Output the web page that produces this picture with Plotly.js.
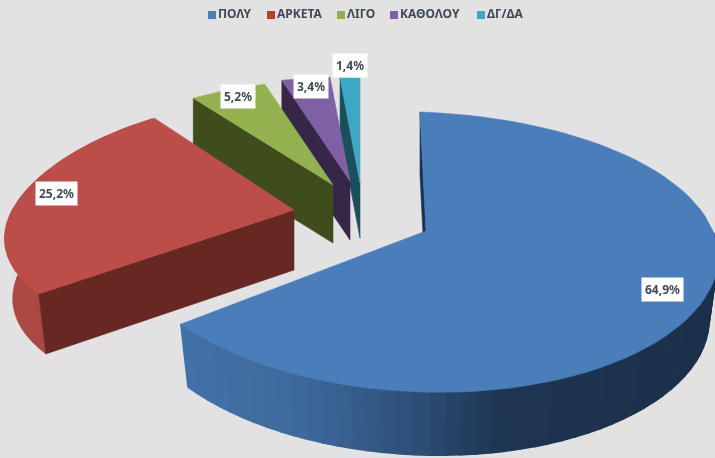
<!DOCTYPE html>
<html><head><meta charset="utf-8">
<script src="https://cdn.plot.ly/plotly-3.0.1.min.js"></script>
<style>html,body{margin:0;padding:0;background:#e2e2e2;overflow:hidden}#c{width:715px;height:458px;filter:blur(0.5px)}</style>
</head><body><div id="c"></div>
<script>
// data
const categories = ["ΠΟΛΥ","ΑΡΚΕΤΑ","ΛΙΓΟ","ΚΑΘΟΛΟΥ","ΔΓ/ΔΑ"];
const values = [64.9,25.2,5.2,3.4,1.4];
// colours
const topColors  = ["#4a7ebb","#bc4e4a","#93b14f","#7f60a3","#3fa7c4"];
const cutColors  = ["#1a3350","#662823","#3f4d1c","#362648","#1b4f5c"];
const legendColors = ["#4a7ebb","#c0392f","#93b14f","#7f60a3","#3fa7c4"];
// 3D projection parameters per slice (explosion offsets and perspective)
const apexX = [426,294,333,350,360];
const apexY = [231,210,185,181,183];
const rimX  = [420,294,333,350,360];
const rimY  = [232,210,185,181,183];
const rxBase= [298,284,284,284,284];
const rxPersp=[0,57,57,57,57];
const ryScale=[1,0.91,0.86,0.86,0.875];
const depth = [63,60,58,59,55];
const converge=[0.03,0.028,0,0,0];
// layout of texts
const labelX = [662,56,238,311,350];
const labelY = [289,193,96,86,65];
const legendX= [212,271,341,394,481];
const legendY= 15;

const rad = d=>d*Math.PI/180;
const total = values.reduce((a,b)=>a+b,0);
const starts=[]; let acc=0;
values.forEach(v=>{starts.push(acc/total*360); acc+=v;});
const ends = values.map((v,i)=>starts[i]+v/total*360);

function rim(i,deg){
  const t=rad(deg), u=-Math.cos(t), s=Math.sin(t);
  return [rimX[i]+(rxBase[i]+rxPersp[i]*u)*s,
          rimY[i]+ryScale[i]*(15+140*u+5*u*u+10*s)];
}
function low(i,p){ return [p[0]+(rimX[i]-p[0])*converge[i], p[1]+depth[i]]; }
function poly(xs,ys,color,name,hover,lw){
  return {type:"scatter",mode:"lines",x:xs.concat(xs[0]),y:ys.concat(ys[0]),fill:"toself",
    fillcolor:color,line:{color:color,width:lw||0.6},showlegend:false,name:name||"",
    hoverinfo:hover?"name":"skip"};
}
function hex(c){return [1,3,5].map(k=>parseInt(c.substr(k,2),16));}
const wallStops=[[170,"#4372a8"],[300,"#3d6a9c"],[420,"#2c4d75"],[500,"#1e3653"],[720,"#1b3049"]];
function wallColor(x){
  for(let k=0;k<wallStops.length-1;k++){
    const [a,ca]=wallStops[k],[b,cb]=wallStops[k+1];
    if(x<=b){const f=Math.max(0,(x-a)/(b-a));const A=hex(ca),B=hex(cb);
      return "rgb("+A.map((v,j)=>Math.round(v+(B[j]-v)*f)).join(",")+")";}
  }
  return wallStops[wallStops.length-1][1];
}
const traces=[];
for(let i=values.length-1;i>=0;i--){
  // outer wall
  if(i===0){
    const from=80,to=ends[0],n=50;
    for(let k=0;k<n;k++){
      const a=from+(to-from)*k/n,b=from+(to-from)*(k+1)/n;
      const p=rim(0,a),q=rim(0,b),pl=low(0,p),ql=low(0,q);
      traces.push(poly([p[0],q[0],ql[0],pl[0]],[p[1],q[1],ql[1],pl[1]],wallColor((p[0]+q[0])/2),"",false,1.4));
    }
  }
  if(i===1){
    const xs=[],ys=[],xb=[],yb=[];
    for(let d=starts[1];d<=ends[1];d+=3){const p=rim(1,d),l=low(1,p);xs.push(p[0]);ys.push(p[1]);xb.unshift(l[0]);yb.unshift(l[1]);}
    traces.push(poly(xs.concat(xb),ys.concat(yb),"#aa4843"));
  }
  // cut wall
  const r0=rim(i,starts[i]), r0l=low(i,r0);
  traces.push(poly([apexX[i],r0[0],r0l[0],apexX[i]],[apexY[i],r0[1],r0l[1],apexY[i]+depth[i]],cutColors[i]));
  // top
  const xs=[apexX[i]],ys=[apexY[i]];
  for(let k=0;k<=80;k++){const p=rim(i,starts[i]+(ends[i]-starts[i])*k/80);xs.push(p[0]);ys.push(p[1]);}
  traces.push(poly(xs,ys,topColors[i],categories[i],true));
}
categories.forEach((c,i)=>{
  traces.push({type:"scatter",mode:"markers+text",x:[legendX[i]],y:[legendY],text:[c],textposition:"middle right",
    textfont:{family:"'Noto Sans',sans-serif",size:12,color:"#404a55",weight:700},
    marker:{symbol:"square",size:8,color:legendColors[i]},showlegend:false,hoverinfo:"skip",cliponaxis:false});
});
const annotations=values.map((v,i)=>({x:labelX[i],y:labelY[i],xref:"x",yref:"y",showarrow:false,
  text:"<b>"+v.toFixed(1).replace(".",",")+"%</b>",
  font:{family:"'Noto Sans',sans-serif",size:12,color:"#404a55"},
  bgcolor:"#ffffff",borderpad:3,align:"center"}));
Plotly.newPlot("c",traces,{
  width:715,height:458,margin:{l:0,r:0,t:0,b:0},paper_bgcolor:"#e2e2e2",plot_bgcolor:"#e2e2e2",
  showlegend:false,hovermode:"closest",annotations:annotations,
  xaxis:{range:[0,715],visible:false,fixedrange:true},
  yaxis:{range:[458,0],visible:false,fixedrange:true}
},{displayModeBar:false});
</script></body></html>
